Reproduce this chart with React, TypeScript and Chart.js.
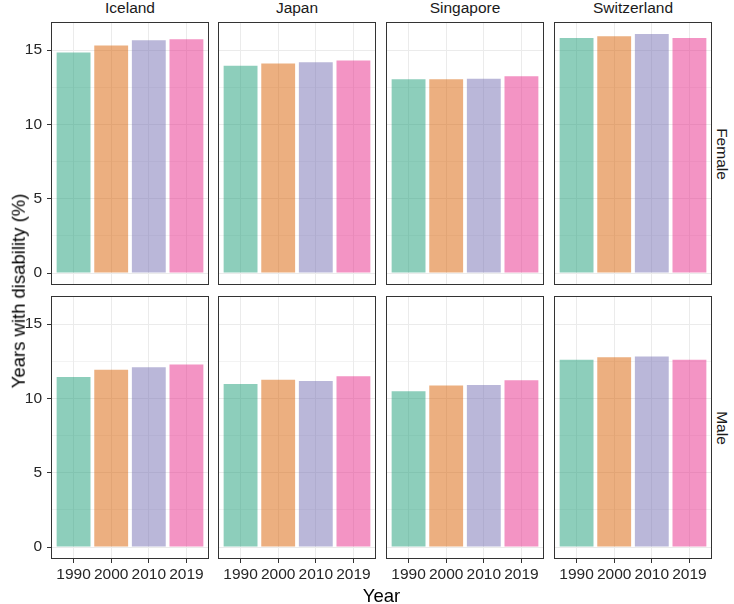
import React, { useEffect, useRef } from 'react';
import { Chart, registerables } from 'chart.js';

Chart.register(...registerables);

const COUNTRIES = ['Iceland', 'Japan', 'Singapore', 'Switzerland'];
const SEXES = ['Female', 'Male'];
const YEARS = ['1990', '2000', '2010', '2019'];
const Y_TICKS = [0, 2.5, 5, 7.5, 10, 12.5, 15];

const ICELAND_FEMALE = [14.84, 15.31, 15.65, 15.72];
const JAPAN_FEMALE = [13.95, 14.1, 14.17, 14.3];
const SINGAPORE_FEMALE = [13.03, 13.03, 13.07, 13.23];
const SWITZERLAND_FEMALE = [15.8, 15.92, 16.08, 15.8];
const ICELAND_MALE = [11.43, 11.92, 12.1, 12.28];
const JAPAN_MALE = [10.96, 11.25, 11.16, 11.49];
const SINGAPORE_MALE = [10.47, 10.87, 10.89, 11.21];
const SWITZERLAND_MALE = [12.59, 12.77, 12.81, 12.59];

const VALUES: number[][][] = [
  [ICELAND_FEMALE, JAPAN_FEMALE, SINGAPORE_FEMALE, SWITZERLAND_FEMALE],
  [ICELAND_MALE, JAPAN_MALE, SINGAPORE_MALE, SWITZERLAND_MALE],
];

const BAR_COLORS = [
  'rgba(27,158,119,0.5)',
  'rgba(217,95,2,0.5)',
  'rgba(117,112,179,0.5)',
  'rgba(231,41,138,0.5)',
];

const FONT = '"Liberation Sans", Arial, Helvetica, sans-serif';
const PANEL_LEFTS = [51, 218, 386, 554];
const PANEL_TOPS = [22, 296];
const PANEL_W = 158;
const PANEL_H = 263;
const LEFT_AXIS_W = 51;
const BOTTOM_AXIS_H = 45;

const ALL_VALUES = VALUES.flat(2);
const DATA_MAX = Math.max(...ALL_VALUES);
const Y_PAD = DATA_MAX * 0.05;

const borderPlugin = {
  id: 'panelBorder',
  afterDatasetsDraw(chart: any) {
    const { ctx, chartArea: a } = chart;
    ctx.save();
    ctx.strokeStyle = '#333333';
    ctx.lineWidth = 1;
    ctx.strokeRect(a.left + 0.5, a.top + 0.5, a.right - a.left - 1, a.bottom - a.top - 1);
    ctx.restore();
  },
};

function Panel({ row, col }: { row: number; col: number }) {
  const ref = useRef<HTMLCanvasElement | null>(null);
  const leftW = col === 0 ? LEFT_AXIS_W : 0;
  const bottomH = row === 1 ? BOTTOM_AXIS_H : 0;
  const w = PANEL_W + leftW;
  const h = PANEL_H + bottomH;

  useEffect(() => {
    if (!ref.current) return;
    const vals = VALUES[row][col];
    const chart = new Chart(ref.current, {
      type: 'bar',
      data: {
        datasets: [
          {
            data: vals.map((v, i) => ({ x: i, y: v })),
            backgroundColor: BAR_COLORS,
            borderWidth: 0,
            barPercentage: 0.9,
            categoryPercentage: 1.0,
          },
        ],
      },
      options: {
        animation: false,
        responsive: false,
        maintainAspectRatio: false,
        devicePixelRatio: 1,
        layout: { padding: 0 },
        plugins: { legend: { display: false }, tooltip: { enabled: false } },
        scales: {
          x: {
            type: 'linear',
            offset: false,
            min: -0.6,
            max: YEARS.length - 1 + 0.6,
            afterBuildTicks: (scale: any) => {
              scale.ticks = YEARS.map((_, i) => ({ value: i }));
            },
            afterFit: (scale: any) => {
              scale.height = bottomH;
              scale.paddingLeft = 0;
              scale.paddingRight = 0;
              scale.paddingTop = 0;
              scale.paddingBottom = 0;
            },
            border: { display: false },
            grid: {
              offset: false,
              color: '#EBEBEB',
              lineWidth: 1,
              drawTicks: row === 1,
              tickLength: 4,
              tickColor: '#333333',
              tickWidth: 1,
            },
            ticks: {
              display: row === 1,
              autoSkip: false,
              maxRotation: 0,
              minRotation: 0,
              padding: 2,
              color: '#262626',
              font: { family: FONT, size: 15.5 },
              callback: (v: any) => YEARS[Math.round(Number(v))] ?? '',
            },
          },
          y: {
            type: 'linear',
            min: -Y_PAD,
            max: DATA_MAX + Y_PAD,
            afterBuildTicks: (scale: any) => {
              scale.ticks = Y_TICKS.map((v) => ({ value: v }));
            },
            afterFit: (scale: any) => {
              scale.width = leftW;
              scale.paddingLeft = 0;
              scale.paddingRight = 0;
              scale.paddingTop = 0;
              scale.paddingBottom = 0;
            },
            border: { display: false },
            grid: {
              color: '#EBEBEB',
              lineWidth: (c: any) => (c.tick && c.tick.value % 5 === 0 ? 1 : 0.6),
              drawTicks: col === 0,
              tickLength: 4,
              tickColor: (c: any) => (c.tick && c.tick.value % 5 === 0 ? '#333333' : 'rgba(0,0,0,0)'),
              tickWidth: 1,
            },
            ticks: {
              display: col === 0,
              autoSkip: false,
              padding: 5,
              color: '#262626',
              font: { family: FONT, size: 15.5 },
              callback: (v: any) => (Number(v) % 5 === 0 ? String(v) : ''),
            },
          },
        },
      } as any,
      plugins: [borderPlugin],
    });
    return () => chart.destroy();
  }, [row, col]);

  return (
    <canvas
      ref={ref}
      width={w}
      height={h}
      style={{
        position: 'absolute',
        left: PANEL_LEFTS[col] - leftW,
        top: PANEL_TOPS[row],
        width: w,
        height: h,
        display: 'block',
      }}
    />
  );
}

export default function App() {
  const textBase: React.CSSProperties = {
    position: 'absolute',
    fontFamily: FONT,
    whiteSpace: 'nowrap',
    lineHeight: 1,
  };
  return (
    <div
      style={{
        position: 'fixed',
        left: 0,
        top: 0,
        width: 734,
        height: 604,
        background: '#FFFFFF',
        overflow: 'hidden',
      }}
    >
      {SEXES.map((_, r) => COUNTRIES.map((_, c) => <Panel key={`${r}-${c}`} row={r} col={c} />))}
      {COUNTRIES.map((name, c) => (
        <div
          key={name}
          style={{
            ...textBase,
            left: PANEL_LEFTS[c] + PANEL_W / 2,
            top: 0,
            transform: 'translateX(-50%)',
            fontSize: 15.5,
            color: '#1A1A1A',
          }}
        >
          {name}
        </div>
      ))}
      {SEXES.map((name, r) => (
        <div
          key={name}
          style={{
            ...textBase,
            left: 722,
            top: PANEL_TOPS[r] + PANEL_H / 2,
            transform: 'translate(-50%, -50%) rotate(90deg)',
            fontSize: 15.5,
            color: '#1A1A1A',
          }}
        >
          {name}
        </div>
      ))}
      <div
        style={{
          ...textBase,
          left: (PANEL_LEFTS[0] + PANEL_LEFTS[3] + PANEL_W) / 2,
          top: 586.5,
          transform: 'translateX(-50%)',
          fontSize: 18.5,
          color: '#000000',
        }}
      >
        Year
      </div>
      <div
        style={{
          ...textBase,
          left: 19,
          top: (PANEL_TOPS[0] + PANEL_TOPS[1] + PANEL_H) / 2,
          transform: 'translate(-50%, -50%) rotate(-90deg)',
          fontSize: 18.5,
          color: '#000000',
        }}
      >
        Years with disability (%)
      </div>
    </div>
  );
}
